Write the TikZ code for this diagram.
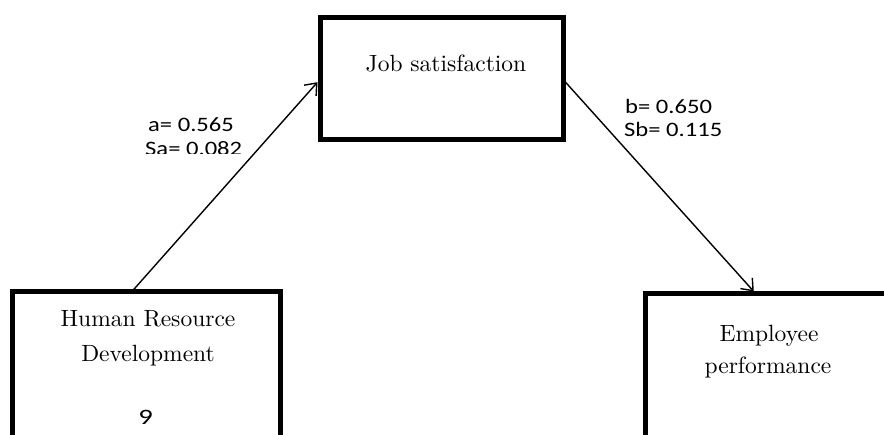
\documentclass[tikz,border=0pt]{standalone}
\usepackage{fontspec}
\usepackage{graphicx}
\usetikzlibrary{arrows.meta,calc}
\newfontfamily\labfont{Carlito}
\newcommand{\bigserif}[1]{\scalebox{2.35}{\fontsize{10}{12}\selectfont #1}}
\newcommand{\widelab}[1]{\scalebox{1.2}[1]{#1}}
\tikzset{
  boxstyle/.style={draw=black, line width=5pt, fill=none, inner sep=0pt},
  serif/.style={inner sep=0pt, anchor=base},
  lab/.style={inner sep=0pt, anchor=base west, font=\labfont\fontsize{20.5}{24}\selectfont},
  conn/.style={line width=1.4pt, -{Straight Barb[length=10pt,width=16pt,line width=1.4pt]}}
}
\begin{document}
\begin{tikzpicture}[x=1pt,y=-1pt]
\useasboundingbox (0,0) rectangle (884,435);
\clip (0,0) rectangle (884,435);
% boxes
\node[boxstyle, minimum width=243pt, minimum height=122pt] (job) at (441.5,79) {};
\node[boxstyle, minimum width=268pt, minimum height=178pt] (hrd) at (146,381) {};
\node[boxstyle, minimum width=260pt, minimum height=176pt] (ep) at (775,382) {};
% texts in boxes
\node[serif] (jobtxt) at (446,72) {\bigserif{Job satisfaction}};
\node[serif] (hrd1) at (148,327) {\bigserif{Human Resource}};
\node[serif] (hrd2) at (148,362) {\bigserif{Development}};
\node[inner sep=0pt, anchor=base, font=\labfont\fontsize{22}{24}\selectfont] (nine) at (145.5,425) {\scalebox{1.3}[1]{9}};
\node[serif] (ep1) at (769,342) {\bigserif{Employee}};
\node[serif] (ep2) at (768,374) {\bigserif{performance}};
% connectors
\draw[conn] ($(hrd.north west)!0.455!(hrd.north east)$) -- ($(job.north west)!0.525!(job.south west)$);
\draw[conn] ($(job.north east)!0.525!(job.south east)$) -- ($(ep.north west)!0.42!(ep.north east)$);
% labels
\node[lab] (la) at (148,132) {\widelab{a= 0.565}};
\begin{scope}
  \clip (130,120) rectangle (260,154);
  \node[lab] (lsa) at (145,156) {\widelab{Sa= 0.082}};
\end{scope}
\node[lab] (lb) at (625,114) {\widelab{b= 0.650}};
\node[lab] (lsb) at (624,137) {\widelab{Sb= 0.115}};
\end{tikzpicture}
\end{document}
